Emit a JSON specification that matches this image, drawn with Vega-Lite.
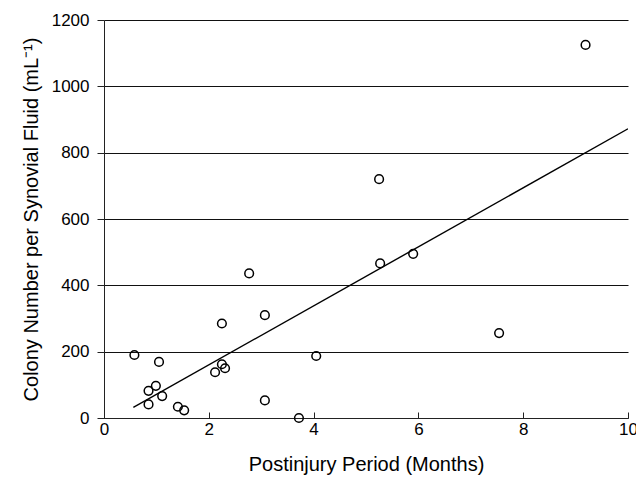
{
  "$schema": "https://vega.github.io/schema/vega-lite/v6.json",
  "width": 524,
  "height": 398,
  "autosize": {"type": "none"},
  "padding": {"left": 104, "top": 20, "right": 8, "bottom": 63},
  "background": "white",
  "config": {
    "view": {"stroke": null},
    "font": "Liberation Sans",
    "axis": {
      "labelFont": "Liberation Sans",
      "titleFont": "Liberation Sans",
      "labelColor": "black",
      "titleColor": "black",
      "labelFontSize": 17,
      "titleFontSize": 20,
      "titleFontWeight": "normal",
      "domainColor": "#222",
      "tickColor": "#222",
      "gridColor": "#111",
      "gridOpacity": 1
    }
  },
  "datasets": {
    "points": [
      {"months": 0.58, "colonies": 190},
      {"months": 0.85, "colonies": 82},
      {"months": 0.85, "colonies": 41},
      {"months": 0.99, "colonies": 97},
      {"months": 1.05, "colonies": 169},
      {"months": 1.11, "colonies": 66},
      {"months": 1.41, "colonies": 34},
      {"months": 1.53, "colonies": 23},
      {"months": 2.12, "colonies": 138},
      {"months": 2.25, "colonies": 162},
      {"months": 2.31, "colonies": 150},
      {"months": 2.25, "colonies": 285},
      {"months": 2.77, "colonies": 436},
      {"months": 3.07, "colonies": 310},
      {"months": 3.07, "colonies": 53},
      {"months": 3.72, "colonies": 0},
      {"months": 4.05, "colonies": 187},
      {"months": 5.25, "colonies": 720},
      {"months": 5.27, "colonies": 466},
      {"months": 5.9, "colonies": 495},
      {"months": 7.54, "colonies": 256},
      {"months": 9.19, "colonies": 1125}
    ],
    "fit": [
      {"months": 0.56, "colonies": 32},
      {"months": 10, "colonies": 872}
    ]
  },
  "layer": [
    {
      "data": {"name": "fit"},
      "mark": {"type": "line", "color": "black", "strokeWidth": 1.4, "clip": true},
      "encoding": {
        "x": {
          "field": "months", "type": "quantitative",
          "scale": {"domain": [0, 10], "nice": false},
          "axis": {
            "title": "Postinjury Period (Months)",
            "values": [0, 2, 4, 6, 8, 10],
            "format": "d",
            "grid": false,
            "tickSize": -6,
            "labelPadding": 9,
            "titlePadding": 17,
            "labelFlush": false
          }
        },
        "y": {
          "field": "colonies", "type": "quantitative",
          "scale": {"domain": [0, 1200], "nice": false},
          "axis": {
            "title": "Colony Number per Synovial Fluid (mL⁻¹)",
            "values": [0, 200, 400, 600, 800, 1000, 1200],
            "format": "d",
            "grid": true,
            "tickSize": 7,
            "labelPadding": 8,
            "titlePadding": 10,
            "labelFlush": false
          }
        }
      }
    },
    {
      "data": {"name": "points"},
      "mark": {"type": "point", "shape": "circle", "filled": false, "color": "black", "strokeWidth": 1.5, "size": 75, "opacity": 1},
      "encoding": {
        "x": {"field": "months", "type": "quantitative"},
        "y": {"field": "colonies", "type": "quantitative"}
      }
    }
  ]
}
